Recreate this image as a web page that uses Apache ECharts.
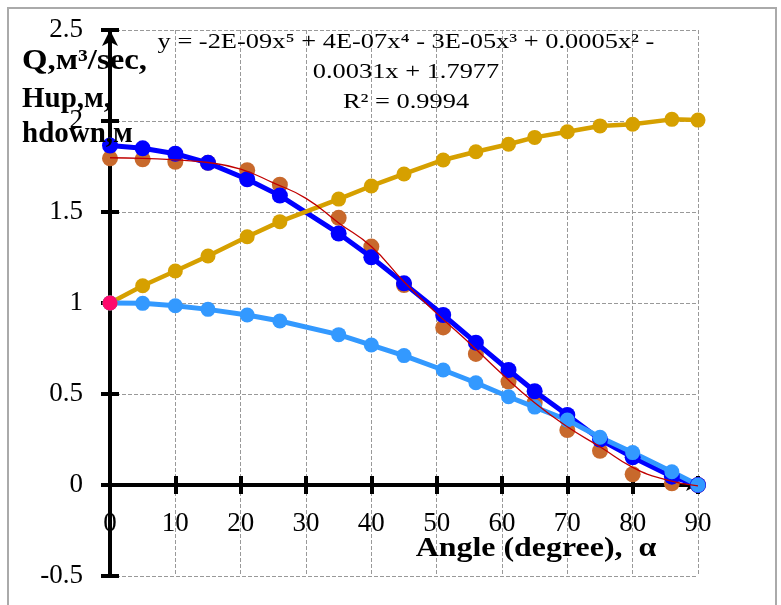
<!DOCTYPE html>
<html>
<head>
<meta charset="utf-8">
<title>Q, Hup, hdown vs angle</title>
<script src="https://cdn.jsdelivr.net/npm/echarts@6/dist/echarts.min.js"></script>
<style>
    html, body {margin: 0; padding: 0; background: #fff;}
    #main {width: 781px; height: 605px;}
</style>
</head>
<body>
<div id="main"></div>
<script>
// 角度
var angles = [0, 5, 10, 15, 21, 26, 35, 40, 45, 51, 56, 61, 65, 70, 75, 80, 86, 90];
// 各曲线数值
var qBlue = [1.865, 1.85, 1.82, 1.77, 1.68, 1.59, 1.382, 1.251, 1.108, 0.934, 0.782, 0.632, 0.515, 0.385, 0.25, 0.152, 0.046, 0];
var qOrange = [1.795, 1.79, 1.776, 1.77, 1.73, 1.65, 1.468, 1.31, 1.099, 0.866, 0.72, 0.568, 0.452, 0.302, 0.188, 0.059, 0.009, 0];
var hUp = [1.0, 1.095, 1.176, 1.258, 1.364, 1.447, 1.571, 1.643, 1.709, 1.786, 1.831, 1.872, 1.91, 1.941, 1.973, 1.982, 2.009, 2.005];
var hDown = [1.0, 0.998, 0.985, 0.965, 0.934, 0.901, 0.826, 0.769, 0.711, 0.632, 0.562, 0.485, 0.428, 0.357, 0.262, 0.178, 0.073, 0];
// 趋势线
var trendX = [0, 5, 10, 15, 20, 25, 30, 35, 40, 45, 50, 55, 60, 65, 70, 75, 80, 85, 90];
var trendY = [1.798, 1.795, 1.786, 1.772, 1.735, 1.66, 1.575, 1.44, 1.31, 1.117, 0.943, 0.78, 0.61, 0.452, 0.32, 0.21, 0.097, 0.03, -0.005];
var startPoint = [[0, 1.0]];

var xTicks = [0, 10, 20, 30, 40, 50, 60, 70, 80, 90];
var yTicks = [-0.5, 0, 0.5, 1, 1.5, 2, 2.5];

var eqLines = [
    'y = -2E-09x\u2075 + 4E-07x\u2074 - 3E-05x\u00b3 + 0.0005x\u00b2 -',
    '0.0031x + 1.7977',
    'R\u00b2 = 0.9994'
];
var yTitle = ['Q,\u043c\u00b3/sec,', 'Hup,\u043c,', 'hdown,\u043c'];
var xTitle = 'Angle (degree),  \u03b1';

function pairs(xs, ys) {
    var arr = [];
    for (var i = 0; i < xs.length; i++) {
        arr.push([xs[i], ys[i]]);
    }
    return arr;
}

var font = 'Liberation Serif';
var chart = echarts.init(document.getElementById('main'));

var grid = {type: 'dashed', color: '#999', width: 1};
var tickStyle = {color: '#000', width: 4};
// 网格: 上30 下29, y从-0.5到2.5, 0刻度离底边的距离
var gridTop = 30, gridBottom = 29;
var plotH = 605 - gridTop - gridBottom;
var zeroOffset = plotH * 0.5 / 3;

// 文字
var graphics = [{
    type: 'rect',
    shape: {x: 8, y: 8, width: 768, height: 620},
    style: {fill: 'none', stroke: '#aaa', lineWidth: 2},
    silent: true
}];
for (var i = 0; i < eqLines.length; i++) {
    graphics.push({
        type: 'text', x: 406, y: 42 + i * 30, z: 100, scaleX: 1.2,
        style: {text: eqLines[i], font: '22px "' + font + '"', fill: '#000', align: 'center', verticalAlign: 'middle'}
    });
}
var titleY = [62, 100, 135];
var titleScale = [1.13, 1.0, 1.0];
for (var j = 0; j < yTitle.length; j++) {
    graphics.push({
        type: 'text', x: 22, y: titleY[j], z: 100, scaleX: titleScale[j],
        style: {text: yTitle[j], font: 'bold 29px "' + font + '"', fill: '#000', align: 'left', verticalAlign: 'middle'}
    });
}
graphics.push({
    type: 'text', x: 536, y: 549, z: 100, scaleX: 1.14,
    style: {text: xTitle, font: 'bold 28px "' + font + '"', fill: '#000', align: 'center', verticalAlign: 'middle'}
});

var option = {
    animation: false,
    backgroundColor: '#fff',
    grid: {left: 110, right: 83, top: gridTop, bottom: gridBottom, containLabel: false, outerBoundsMode: 'none'},
    xAxis: [{
        // 零线上的轴线和刻度
        type: 'value', min: 0, max: 90, interval: 10, position: 'bottom',
        axisLine: {show: true, onZero: true, onZeroAxisIndex: 0, symbol: ['none', 'arrow'], symbolSize: [9, 12],
            lineStyle: {color: '#000', width: 4}},
        axisTick: {show: true, inside: false, length: 9, lineStyle: tickStyle},
        axisLabel: {show: false},
        splitLine: {show: true, lineStyle: grid}
    }, {
        type: 'value', min: 0, max: 90, interval: 10, position: 'bottom',
        axisLine: {show: false, onZero: true, onZeroAxisIndex: 0},
        axisTick: {show: true, inside: true, length: 9, lineStyle: tickStyle},
        axisLabel: {show: false},
        splitLine: {show: false}
    }, {
        // 刻度标签
        type: 'value', min: 0, max: 90, interval: 10, position: 'bottom', offset: -zeroOffset,
        axisLine: {show: false, onZero: false},
        axisTick: {show: false},
        axisLabel: {margin: 25, fontFamily: font, fontSize: 27, color: '#000',
            formatter: function (v) { return xTicks.indexOf(v) >= 0 ? String(v) : ''; }},
        splitLine: {show: false}
    }],
    yAxis: [{
        type: 'value', min: -0.5, max: 2.5, interval: 0.5, position: 'left',
        axisLine: {show: true, onZero: false, symbol: ['none', 'arrow'], symbolSize: [12, 16],
            lineStyle: {color: '#000', width: 4}},
        axisTick: {show: true, inside: false, length: 9, lineStyle: tickStyle},
        axisLabel: {margin: 27, fontFamily: font, fontSize: 27, color: '#000',
            formatter: function (v) { return yTicks.indexOf(v) >= 0 ? String(v) : ''; }},
        splitLine: {show: true, lineStyle: grid}
    }, {
        type: 'value', min: -0.5, max: 2.5, interval: 0.5, position: 'left',
        axisLine: {show: false, onZero: false},
        axisTick: {show: true, inside: true, length: 9, lineStyle: tickStyle},
        axisLabel: {show: false},
        splitLine: {show: false}
    }],
    series: [{
        name: 'Q points', type: 'scatter', symbolSize: 16,
        itemStyle: {color: '#c8692c', opacity: 1},
        data: pairs(angles, qOrange)
    }, {
        name: 'Q', type: 'line', symbol: 'circle', symbolSize: 16,
        lineStyle: {color: '#0000ff', width: 5}, itemStyle: {color: '#0000ff'},
        data: pairs(angles, qBlue)
    }, {
        name: 'Hup', type: 'line', symbol: 'circle', symbolSize: 15,
        lineStyle: {color: '#d6a000', width: 4.5}, itemStyle: {color: '#d6a000'},
        data: pairs(angles, hUp)
    }, {
        name: 'hdown', type: 'line', symbol: 'circle', symbolSize: 15,
        lineStyle: {color: '#3399ff', width: 5}, itemStyle: {color: '#3399ff'},
        data: pairs(angles, hDown)
    }, {
        name: 'trend', type: 'line', smooth: true, showSymbol: false, z: 5,
        lineStyle: {color: '#c00000', width: 1.3},
        data: pairs(trendX, trendY)
    }, {
        name: 'start', type: 'scatter', symbolSize: 15, z: 10,
        itemStyle: {color: '#ff0a6c', opacity: 1},
        data: startPoint
    }],
    graphic: graphics
};
chart.setOption(option);
</script>
</body>
</html>
